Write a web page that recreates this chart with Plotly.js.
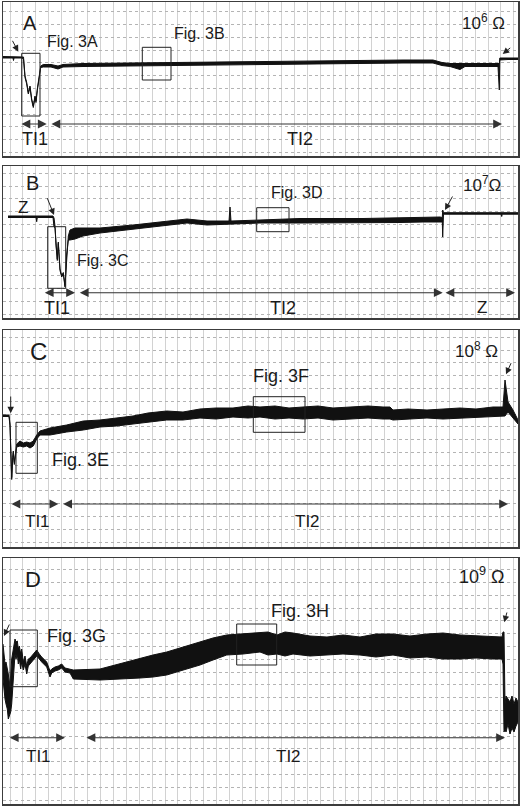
<!DOCTYPE html>
<html>
<head>
<meta charset="utf-8">
<script src="https://cdn.plot.ly/plotly-3.0.1.min.js"></script>
<style>
  html, body { margin: 0; padding: 0; background: #fff; }
  #chart { width: 520px; height: 807px; }
</style>
</head>
<body>
<div id="chart"></div>
<script>
// Recording traces (time in samples, level in arbitrary units)
// each trace is kept as a low / high envelope of the noisy signal

// A - 10^6 ohm
const aX  = [0, 10, 10.5, 11, 19, 20.5, 22, 23.7, 25.3, 27, 28.7, 30.3, 32, 33, 34.3, 36.3, 37.7, 40.3, 48, 55, 60, 80, 120, 180, 257, 300, 350, 400, 430, 439, 447, 457, 462, 480, 495, 496.3, 496.8, 505, 510, 515];
const aLo = [98, 98, 95.5, 98, 98, 97, 78.5, 72, 62, 68.5, 55.5, 48.5, 58.5, 53.5, 65.5, 78.5, 88.5, 89, 89, 87, 89, 89.5, 90, 90.5, 91.5, 92.5, 92.5, 93, 93, 90.5, 89.5, 86.5, 89.5, 89.5, 89.5, 66, 96, 96.5, 96.5, 96.5];
const aHi = [99.5, 99.5, 99.5, 99.5, 99.5, 99, 80, 73.5, 63.5, 70, 57, 50, 60, 55, 67, 80, 90, 91.5, 91.5, 90, 91.5, 92.5, 93, 93.5, 94.5, 95.5, 95.5, 96, 96, 93.5, 92.5, 92, 92.5, 92.5, 92.5, 92.5, 98, 98, 98.5, 98];

// B - 10^7 ohm
const bX  = [5, 33, 33.7, 34.3, 50, 51, 52, 53, 54.3, 55.3, 57, 58.7, 60.3, 62, 63.7, 65.3, 67, 72, 80, 97, 130, 164, 184, 204, 226, 227, 228, 257, 297, 360, 397, 420, 437, 439.3, 439.7, 440.5, 470, 498, 498.7, 499.3, 515];
const bLo = [100.5, 100.5, 96.3, 100.5, 100.5, 91, 90.5, 70.5, 57.5, 74.5, 47.5, 41, 44, 31, 64, 78, 78, 79, 82, 85, 89, 93, 95, 93, 94, 94, 94, 95, 95, 95, 95.5, 96, 96, 96, 81, 103.8, 103.8, 103.8, 101.5, 103.8, 103.8];
const bHi = [102, 102, 102, 102, 102, 100, 92, 72, 59, 76, 49, 42.5, 45.5, 32.5, 65.5, 82, 88, 90, 90, 90, 93, 97, 99, 97, 97, 111, 97, 98, 99.5, 99.5, 100, 101, 101, 100.5, 108, 105.3, 105.3, 105.3, 105.3, 105.3, 105.3];

// C - 10^8 ohm
const cX  = [0, 6, 7, 8, 8.7, 9.7, 10.3, 11.3, 12.7, 13.7, 17, 20.3, 23.7, 27, 30.3, 33.7, 37, 47, 63.7, 80.3, 97, 113.7, 130, 145, 163.7, 180, 197, 213, 230, 245, 257, 272, 286, 300, 315, 330, 350, 365, 380, 387, 390, 405, 424, 440, 457, 473, 490, 500, 502, 505, 510, 515];
const cLo = [130.5, 130.5, 121, 81, 67.5, 87.5, 94.5, 82.5, 91, 100, 101, 100, 101, 99, 101, 108, 112, 112, 115, 117, 120, 121, 123, 125, 127, 127, 129, 128, 130, 129, 130, 128, 129, 128, 129, 127, 128, 129, 128, 128, 127, 128, 129, 128, 129, 130, 131, 131, 131, 135, 129, 123];
const cHi = [132, 132, 123, 83, 69.5, 89.5, 96, 84.5, 93, 103, 106, 104, 105, 104, 106, 112, 116, 119, 122, 126, 127, 129, 131, 134, 136, 135, 138, 139, 139, 141, 140, 141, 139, 140, 141, 139, 140, 141, 140, 140, 137, 138, 137, 138, 139, 138, 140, 140, 167, 145, 137, 127];

// D - 10^9 ohm
const dX  = [0, 1, 2, 3, 4.3, 5.3, 6.3, 7.7, 8.7, 9.7, 11, 12, 13, 14.3, 15.3, 16.3, 17.7, 18.7, 20.3, 22, 23.7, 25.3, 27, 28.7, 30.3, 33.7, 36.3, 38.7, 43.7, 47, 48.7, 52, 55.3, 58.7, 62, 67, 70.3, 97, 137, 150, 163.7, 180, 197, 210, 223.7, 240, 257, 265, 274, 282, 290, 307, 324, 340, 357, 373, 390, 407, 424, 440, 457, 473, 490, 499, 500, 501, 502, 503, 505, 507, 509, 511, 513, 515];
const dLo = [125, 112, 105, 100, 95, 85, 88, 92, 100, 118, 135, 150, 145, 150, 140, 145, 135, 142, 134, 140, 130, 138, 140, 142, 145, 148, 145, 142, 137, 127, 131, 133, 134, 136, 132, 131, 125, 124, 126, 127, 129, 134, 139, 144, 149, 150, 152, 149, 150, 148, 150, 148, 149, 150, 149, 147, 149, 146, 147, 145, 145, 146, 145, 145, 140, 72, 75, 72, 80, 70, 76, 72, 78, 82];
const dHi = [160, 145, 140, 142, 135, 130, 120, 128, 145, 150, 160, 165, 162, 163, 155, 158, 150, 155, 142, 148, 138, 145, 146, 148, 150, 154, 150, 147, 142, 133, 135, 137, 138, 140, 136, 135, 134, 135, 146, 149, 152, 157, 162, 166, 169, 170, 171, 172, 169, 172, 171, 168, 167, 169, 167, 170, 170, 168, 170, 171, 169, 168, 167, 167, 172, 172, 100, 108, 105, 102, 108, 100, 106, 102];

// panel heights (level units) and box positions in screen pixels
const panels = [
    {n: '',  top: 2,   bottom: 156, h: 154, tick0: 3.6},
    {n: '2', top: 166, bottom: 318, h: 152, tick0: 4},
    {n: '3', top: 330, bottom: 547, h: 217, tick0: 5},
    {n: '4', top: 558, bottom: 804, h: 246, tick0: 4}
];

const FONT = 'Liberation Sans, Arial, sans-serif';
const INK = '#111';

function band(xs, lo, hi, n) {
    const common = {xaxis: 'x' + n, yaxis: 'y' + n, mode: 'lines', hoverinfo: 'skip', showlegend: false};
    return [
        Object.assign({x: xs, y: lo, line: {color: INK, width: 1}}, common),
        Object.assign({x: xs, y: hi, line: {color: INK, width: 1}, fill: 'tonexty', fillcolor: INK}, common)
    ];
}

const data = [].concat(
    band(aX, aLo, aHi, ''),
    band(bX, bLo, bHi, '2'),
    band(cX, cLo, cHi, '3'),
    band(dX, dLo, dHi, '4')
);

const layout = {
    width: 520,
    height: 807,
    margin: {l: 0, r: 0, t: 0, b: 0},
    paper_bgcolor: '#fff',
    plot_bgcolor: '#fff',
    showlegend: false,
    annotations: [],
    shapes: []
};

panels.forEach(p => {
    layout['xaxis' + p.n] = {
        domain: [3 / 520, 518 / 520],
        range: [0, 515],
        anchor: 'y' + p.n,
        showticklabels: false, ticks: '', zeroline: false,
        showgrid: true, gridcolor: '#d2d2d2', gridwidth: 1,
        tick0: 7, dtick: 12.92,
        showline: true, mirror: true, linecolor: '#3c3c3c', linewidth: 1.5,
        fixedrange: true
    };
    layout['yaxis' + p.n] = {
        domain: [1 - p.bottom / 807, 1 - p.top / 807],
        range: [0, p.h],
        anchor: 'x' + p.n,
        showticklabels: false, ticks: '', zeroline: false,
        showgrid: true, gridcolor: '#b4b4b4', gridwidth: 1, griddash: 'dot',
        tick0: p.tick0, dtick: 12.8,
        showline: true, mirror: true, linecolor: '#3c3c3c', linewidth: 1.5,
        fixedrange: true
    };
});

function label(n, x, y, text, size) {
    layout.annotations.push({xref: 'x' + n, yref: 'y' + n, x: x, y: y, text: text,
        showarrow: false, font: {family: FONT, size: size, color: '#1a1a1a'}});
}

function pointer(n, x, y, ax, ay) {
    layout.annotations.push({xref: 'x' + n, yref: 'y' + n, axref: 'x' + n, ayref: 'y' + n,
        x: x, y: y, ax: ax, ay: ay, text: '', showarrow: true,
        arrowhead: 2, arrowsize: 1.3, arrowwidth: 1, arrowcolor: '#222'});
}

function span(n, x0, x1, y) {
    layout.annotations.push({xref: 'x' + n, yref: 'y' + n, axref: 'x' + n, ayref: 'y' + n,
        x: x1, y: y, ax: x0, ay: y, text: '', showarrow: true, arrowside: 'end+start',
        arrowhead: 2, arrowsize: 1.6, arrowwidth: 1.1, arrowcolor: '#333'});
}

function box(n, x0, x1, y0, y1) {
    layout.shapes.push({type: 'rect', xref: 'x' + n, yref: 'y' + n, x0: x0, x1: x1, y0: y0, y1: y1,
        line: {color: '#222', width: 1}});
}

// A
label('', 27, 133, 'A', 20);
label('', 69, 114, 'Fig. 3A', 16);
label('', 196, 122, 'Fig. 3B', 16);
label('', 480, 134, '10<sup>6</sup> Ω', 17);
label('', 32, 17, 'TI1', 18);
label('', 297, 17, 'TI2', 18);
box('', 18.7, 37, 40, 102.7);
box('', 139.3, 168, 76, 108.7);
pointer('', 15.3, 104.3, 8.7, 116.7);
pointer('', 499.7, 102, 508.7, 109.3);
span('', 17, 43.7, 32);
span('', 47, 499, 32);

// B
label('2', 29, 135, 'B', 20);
label('2', 20, 111, 'Z', 17);
label('2', 100, 58, 'Fig. 3C', 16);
label('2', 294, 126, 'Fig. 3D', 16);
label('2', 479, 134, '10<sup>7</sup>Ω', 17);
label('2', 54, 10, 'TI1', 18);
label('2', 280, 10, 'TI2', 18);
label('2', 479, 11, 'Z', 17);
box('2', 44.7, 62.7, 29.7, 91.3);
box('2', 253.7, 286, 86.3, 110.3);
pointer('2', 51, 103, 43.7, 121.3);
pointer('2', 442, 108, 450.3, 123);
span('2', 40.3, 72, 25.3);
span('2', 75.3, 439.7, 25.3);
span('2', 441, 512, 25.3);

// C
label('3', 35, 196, 'C', 24);
label('3', 77, 87, 'Fig. 3E', 18);
label('3', 278, 171, 'Fig. 3F', 18);
label('3', 473, 197, '10<sup>8</sup> Ω', 17);
label('3', 34, 26, 'TI1', 17);
label('3', 304, 26, 'TI2', 17);
box('3', 13, 34.3, 73.7, 124.7);
box('3', 250.3, 302, 114.7, 150.3);
pointer('3', 7.7, 133.7, 7.7, 152);
pointer('3', 503, 172.7, 508.7, 185.3);
span('3', 7, 55.3, 43);
span('3', 58.7, 505, 43);

// D
label('4', 30, 225, 'D', 22);
label('4', 73, 168, 'Fig. 3G', 18);
label('4', 297, 193, 'Fig. 3H', 18);
label('4', 479, 229, '10<sup>9</sup> Ω', 18);
label('4', 35, 48, 'TI1', 17);
label('4', 285, 48, 'TI2', 17);
box('4', 7, 34.3, 117.3, 174);
box('4', 233.7, 273.7, 139, 180);
pointer('4', 1, 168, 7, 181);
pointer('4', 501.3, 181.7, 504.3, 193);
span('4', 5.3, 62, 66.3);
span('4', 82, 502, 66.3);

Plotly.newPlot('chart', data, layout, {displayModeBar: false, staticPlot: true});
</script>
</body>
</html>
